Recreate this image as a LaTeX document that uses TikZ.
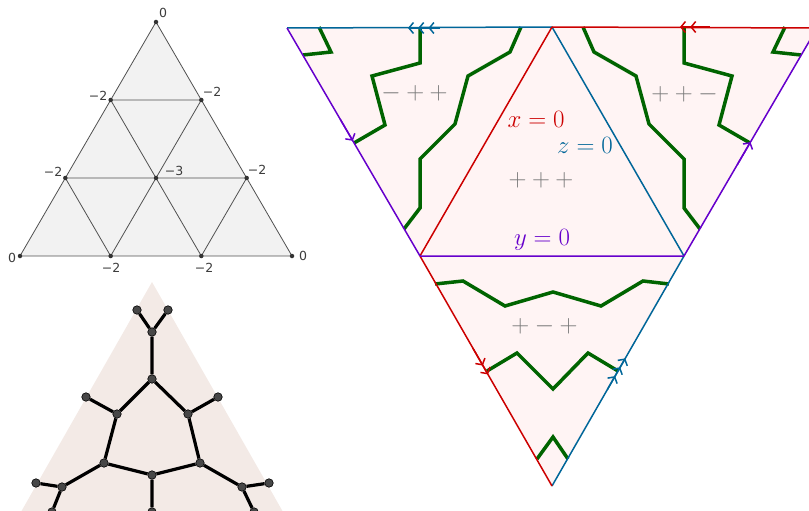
\documentclass[tikz,border=0pt]{standalone}
\usepackage{fontspec}
\newfontfamily\labfont{DejaVu Sans}
\usetikzlibrary{arrows.meta,calc}
\definecolor{xred}{RGB}{204,0,0}
\definecolor{zblue}{RGB}{0,102,153}
\definecolor{ypurp}{RGB}{102,0,204}
\definecolor{cgreen}{RGB}{0,100,0}
\definecolor{regfill}{RGB}{255,244,244}
\definecolor{gridfill}{RGB}{242,242,242}
\definecolor{gridline}{RGB}{80,80,80}
\definecolor{treefill}{RGB}{243,234,230}
\definecolor{signgray}{RGB}{120,120,120}
\definecolor{labgray}{RGB}{60,60,60}
\tikzset{
  bb/.tip={Straight Barb[length=4.5pt,width=11pt,sep=4pt]},
  edge/.style={line width=1.5pt},
  gcurve/.style={draw=cgreen, line width=3.5pt},
  sign/.style={text=signgray, font=\fontsize{24}{28}\selectfont, inner sep=0},
  eqn/.style={font=\fontsize{24}{28}\selectfont, anchor=base, inner sep=0},
  lab/.style={font=\labfont\fontsize{12.5}{14}\selectfont, text=labgray, inner sep=0},
  gdot/.style={circle, fill=black!80, inner sep=0, minimum size=4.5pt},
  tdot/.style={circle, fill=black!72, draw=black, line width=0.6pt, inner sep=0, minimum size=8.5pt},
  tedge/.style={line width=3.2pt, black}
}
\begin{document}
\begin{tikzpicture}[x=1pt,y=-1pt]
\useasboundingbox (0,0) rectangle (809,511);
\clip (0,0) rectangle (809,511);

% ---------- small subdivided triangle ----------
\coordinate (T0) at (156,22);
\coordinate (L0) at (20,256);
\coordinate (R0) at (292,256);
\coordinate (ga) at ($(T0)!1/3!(L0)$);
\coordinate (gb) at ($(T0)!1/3!(R0)$);
\coordinate (gc) at ($(T0)!2/3!(L0)$);
\coordinate (ge) at ($(T0)!2/3!(R0)$);
\coordinate (gd) at ($(gc)!0.5!(ge)$);
\coordinate (gf) at ($(L0)!1/3!(R0)$);
\coordinate (gg) at ($(L0)!2/3!(R0)$);
\fill[gridfill] (T0) -- (L0) -- (R0) -- cycle;
\draw[gridline, line width=0.8pt] (T0) -- (L0) -- (R0) -- cycle
  (ga) -- (gb) (gc) -- (ge) (gb) -- (gf) (ge) -- (gg) (ga) -- (gg) (gc) -- (gf);
\foreach \p in {T0,L0,R0,ga,gb,gc,gd,ge,gf,gg} \node[gdot] at (\p) {};
\node[lab] (l1) at (163,13) {0};
\node[lab] (l2) at (98,96) {−2};
\node[lab] (l3) at (212,92) {−2};
\node[lab] (l4) at (53,172) {−2};
\node[lab] (l5) at (174,171) {−3};
\node[lab] (l6) at (257,170) {−2};
\node[lab] (l7) at (12,258) {0};
\node[lab] (l8) at (303,256) {0};
\node[lab] (l9) at (111,268) {−2};
\node[lab] (l10) at (204,268) {−2};

% ---------- tropical curve ----------
\fill[treefill] (152,282) -- (5,540) -- (299,540) -- cycle;
\node[tdot] (t1) at (137,310) {};
\node[tdot] (t2) at (168,310) {};
\node[tdot] (t3) at (152,332) {};
\node[tdot] (t4) at (152,379) {};
\node[tdot] (t5) at (86,397) {};
\node[tdot] (t6) at (218,397) {};
\node[tdot] (t7) at (117,414) {};
\node[tdot] (t8) at (188,414) {};
\node[tdot] (t9) at (104,463) {};
\node[tdot] (t10) at (200,463) {};
\node[tdot] (t11) at (152,475) {};
\node[tdot] (t12) at (36,483) {};
\node[tdot] (t13) at (269,483) {};
\node[tdot] (t14) at (62,487) {};
\node[tdot] (t15) at (242,487) {};
\node[tdot] (t16) at (52,512) {};
\node[tdot] (t17) at (152,512) {};
\node[tdot] (t18) at (254,512) {};
\draw[tedge] (t1) -- (t3) (t2) -- (t3) (t3) -- (t4) (t4) -- (t7) (t4) -- (t8)
  (t5) -- (t7) (t6) -- (t8) (t7) -- (t9) (t8) -- (t10) (t9) -- (t11) (t10) -- (t11)
  (t11) -- (t17) (t9) -- (t14) (t10) -- (t15) (t12) -- (t14) (t13) -- (t15)
  (t14) -- (t16) (t15) -- (t18);

% ---------- big glued triangle ----------
\coordinate (TL) at (287,28);
\coordinate (TM) at (552,27);
\coordinate (TR) at (817,28);
\coordinate (BL) at (420,256);
\coordinate (BR) at (684,256);
\coordinate (B) at (552,486);
\fill[regfill] (TL) -- (TR) -- (B) -- cycle;

% green curves
\draw[gcurve] (319,27) -- (331,52) -- (303,55);
\draw[gcurve] (420,28) -- (420,63) -- (372,76) -- (385,125) -- (354,143);
\draw[gcurve] (521,27) -- (510,52) -- (468,76) -- (455,124) -- (420,159) -- (420,208) -- (404,229);
\draw[gcurve] (583,27) -- (594,52) -- (636,76) -- (649,124) -- (684,159) -- (684,208) -- (700,229);
\draw[gcurve] (684,28) -- (684,63) -- (732,76) -- (719,125) -- (750,143);
\draw[gcurve] (785,27) -- (773,52) -- (801,55);
\draw[gcurve] (435,284) -- (463,281) -- (505,306) -- (553,292) -- (601,306) -- (643,281) -- (669,284);
\draw[gcurve] (487,371) -- (517,353) -- (553,389) -- (588,353) -- (618,371);
\draw[gcurve] (537,459) -- (553,437) -- (568,459);

% edges
\draw[edge, zblue] (TL) -- (TM) (TM) -- (BR) (BR) -- (B);
\draw[edge, xred] (TM) -- (TR) (TM) -- (BL) (BL) -- (B);
\draw[edge, ypurp] (TL) -- (BL) (BL) -- (BR) (BR) -- (TR);

% gluing arrows
\draw[edge, zblue, -{bb[] bb[] bb[]}] (440,28) -- (404,28);
\draw[edge, xred, -{bb[] bb[]}] (710,27) -- (676,27);
\draw[edge, ypurp, -{bb[]}] ($(TL)!0.40!(BL)$) -- ($(TL)!0.51!(BL)$);
\draw[edge, ypurp, -{bb[]}] ($(BR)!0.40!(TR)$) -- ($(BR)!0.515!(TR)$);
\draw[edge, xred, -{bb[] bb[]}] ($(BL)!0.40!(B)$) -- ($(BL)!0.53!(B)$);
\draw[edge, zblue, -{bb[] bb[] bb[]}] ($(B)!0.42!(BR)$) -- ($(B)!0.57!(BR)$);

% labels
\node[sign] (s1) at (414.5,93) {${-}\mskip4mu{+}\mskip4mu{+}$};
\node[sign] (s2) at (684.5,94) {${+}\mskip4mu{+}\mskip4mu{-}$};
\node[sign] (s3) at (541,180) {${+}\mskip4mu{+}\mskip4mu{+}$};
\node[sign] (s4) at (544.5,326) {${+}\mskip4mu{-}\mskip4mu{+}$};
\node[eqn, text=xred] (ex) at (536,127.5) {$x=0$};
\node[eqn, text=zblue] (ez) at (585,153) {$z=0$};
\node[eqn, text=ypurp] (ey) at (542,245) {$y=0$};
\end{tikzpicture}
\end{document}
